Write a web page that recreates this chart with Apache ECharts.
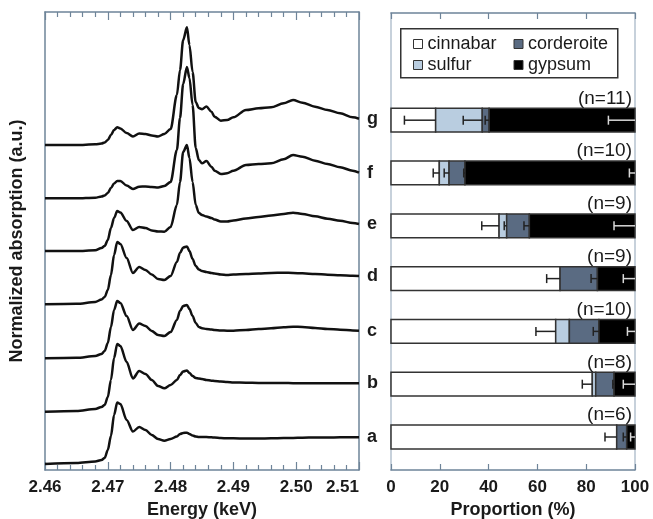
<!DOCTYPE html>
<html>
<head>
<meta charset="utf-8">
<script src="https://cdn.jsdelivr.net/npm/echarts@6/dist/echarts.min.js"></script>
<style>
html,body{margin:0;padding:0;background:#fff;}
#chart{width:653px;height:519px;}
</style>
</head>
<body>
<div id="chart"></div>
<script>
// ---------- Left panel: S K-edge XANES spectra ----------
const energy = [2.460, 2.465, 2.468, 2.469, 2.4695, 2.470, 2.4705, 2.471, 2.4715, 2.472, 2.473, 2.474, 2.475, 2.476, 2.477, 2.478, 2.479, 2.480, 2.481, 2.4815, 2.482, 2.4826, 2.483, 2.4835, 2.484, 2.4845, 2.485, 2.4857, 2.4865, 2.487, 2.488, 2.489, 2.490, 2.492, 2.494, 2.496, 2.498, 2.4995, 2.501, 2.503, 2.505, 2.507, 2.509, 2.510];

const specA = [0.06, 0.07, 0.085, 0.10, 0.12, 0.20, 0.34, 0.55, 0.675, 0.66, 0.50, 0.385, 0.43, 0.40, 0.35, 0.31, 0.293, 0.31, 0.335, 0.36, 0.37, 0.373, 0.36, 0.345, 0.335, 0.33, 0.33, 0.33, 0.327, 0.325, 0.32, 0.317, 0.317, 0.315, 0.315, 0.317, 0.32, 0.32, 0.323, 0.325, 0.325, 0.327, 0.327, 0.327];
const specB = [0.583, 0.59, 0.61, 0.63, 0.65, 0.73, 0.90, 1.12, 1.26, 1.24, 1.08, 0.915, 0.99, 0.96, 0.90, 0.84, 0.817, 0.85, 0.90, 0.95, 0.985, 0.995, 0.97, 0.94, 0.92, 0.915, 0.91, 0.90, 0.893, 0.89, 0.885, 0.88, 0.875, 0.873, 0.87, 0.87, 0.87, 0.868, 0.868, 0.867, 0.867, 0.867, 0.867, 0.867];
const specC = [1.117, 1.122, 1.14, 1.16, 1.19, 1.27, 1.43, 1.60, 1.69, 1.67, 1.54, 1.40, 1.465, 1.44, 1.39, 1.35, 1.34, 1.38, 1.50, 1.59, 1.64, 1.65, 1.61, 1.54, 1.47, 1.43, 1.417, 1.41, 1.405, 1.40, 1.395, 1.393, 1.393, 1.40, 1.41, 1.417, 1.427, 1.433, 1.43, 1.42, 1.41, 1.403, 1.395, 1.393];
const specD = [1.657, 1.662, 1.68, 1.705, 1.73, 1.80, 1.95, 2.15, 2.28, 2.26, 2.12, 1.97, 2.03, 2.00, 1.955, 1.91, 1.90, 1.94, 2.08, 2.17, 2.225, 2.235, 2.19, 2.11, 2.04, 2.005, 1.99, 1.98, 1.97, 1.965, 1.955, 1.95, 1.955, 1.96, 1.965, 1.97, 1.973, 1.97, 1.967, 1.96, 1.953, 1.947, 1.942, 1.94];
const specE = [2.19, 2.19, 2.197, 2.22, 2.24, 2.30, 2.42, 2.52, 2.59, 2.575, 2.49, 2.40, 2.43, 2.42, 2.395, 2.385, 2.383, 2.43, 2.65, 2.88, 3.18, 3.25, 3.12, 2.88, 2.65, 2.57, 2.55, 2.535, 2.52, 2.505, 2.485, 2.485, 2.495, 2.515, 2.53, 2.545, 2.56, 2.573, 2.56, 2.537, 2.513, 2.493, 2.47, 2.46];
const specF = [2.717, 2.717, 2.723, 2.735, 2.745, 2.77, 2.82, 2.865, 2.89, 2.89, 2.845, 2.81, 2.833, 2.835, 2.83, 2.825, 2.84, 2.88, 3.20, 3.52, 3.86, 4.03, 3.92, 3.65, 3.22, 3.10, 3.067, 3.09, 3.033, 2.993, 2.96, 2.967, 2.993, 3.05, 3.06, 3.067, 3.107, 3.15, 3.133, 3.093, 3.06, 3.027, 2.993, 2.973];
const specG = [3.25, 3.25, 3.257, 3.265, 3.275, 3.30, 3.35, 3.40, 3.427, 3.415, 3.37, 3.335, 3.365, 3.36, 3.345, 3.335, 3.36, 3.41, 3.75, 4.00, 4.30, 4.427, 4.25, 3.98, 3.68, 3.62, 3.607, 3.635, 3.583, 3.533, 3.493, 3.50, 3.527, 3.60, 3.617, 3.627, 3.667, 3.70, 3.673, 3.633, 3.60, 3.567, 3.527, 3.513];

const energyTicks = ['2.46', '2.47', '2.48', '2.49', '2.50', '2.51'];

// ---------- Right panel: species proportions ----------
const samples = ['a', 'b', 'c', 'd', 'e', 'f', 'g'];
const nCounts = [6, 8, 10, 9, 9, 10, 11];
const cinnabar   = [92.5, 82.5, 67.5, 69.3, 44.3, 19.8, 18.3];
const sulfur     = [0, 1.4, 5.6, 0, 3.1, 4.0, 19.1];
const corderoite = [4.1, 7.5, 12.1, 15.3, 9.3, 6.5, 2.8];
const gypsum     = [3.4, 8.6, 14.8, 15.4, 43.3, 69.7, 59.8];
const cinnabarErr   = [4.8, 4.1, 8.1, 5.5, 7.1, 2.5, 12.8];
const sulfurErr     = [0, 0, 0, 0, 1.0, 2.0, 7.8];
const corderoiteErr = [1.4, 0.5, 2.3, 2.6, 2.2, 0.5, 1.6];
const gypsumErr     = [1.8, 4.8, 3.1, 4.8, 8.6, 2.3, 10.9];
const proportionTicks = [0, 20, 40, 60, 80, 100];

const FONT = '"Liberation Sans", Arial, sans-serif';
const AXIS = '#6e8499';
const AXIS_R = '#b4c2cf';
const TXT = '#1a1a1a';

const spectra = [specA, specB, specC, specD, specE, specF, specG];
const lineSeries = spectra.map((arr, i) => ({
  type: 'line',
  name: 'spec-' + samples[i],
  xAxisIndex: 0, yAxisIndex: 0,
  data: energy.map((e, k) => [e, arr[k]]),
  smooth: 0.3,
  smoothMonotone: 'x',
  showSymbol: false,
  lineStyle: { color: '#111', width: 2.5 },
  endLabel: {
    show: true, formatter: samples[i], distance: 8,
    fontSize: 18, fontWeight: 'bold', color: TXT, fontFamily: FONT
  },
  silent: true, animation: false, z: 3
}));

const comps = [
  { name: 'cinnabar', vals: cinnabar, err: cinnabarErr, color: '#ffffff', errColor: '#222' },
  { name: 'sulfur', vals: sulfur, err: sulfurErr, color: '#b9cde0', errColor: '#222' },
  { name: 'corderoite', vals: corderoite, err: corderoiteErr, color: '#5a6b82', errColor: '#222' },
  { name: 'gypsum', vals: gypsum, err: gypsumErr, color: '#000000', errColor: '#d8d8d8' }
];

const rowPos = samples.map((s, i) => i + 1);
const starts = samples.map(() => 0);
const barSeries = [];
const errData = [];
comps.forEach((c, ci) => {
  const data = [];
  samples.forEach((s, i) => {
    const s0 = starts[i], s1 = s0 + c.vals[i];
    data.push([s0, s1, rowPos[i]]);
    errData.push([s1, c.vals[i] > 0 ? c.err[i] : 0, rowPos[i], ci]);
    starts[i] = s1;
  });
  barSeries.push({
    type: 'custom', name: c.name,
    coordinateSystem: 'cartesian2d', xAxisIndex: 2, yAxisIndex: 2,
    itemStyle: { color: c.color, borderColor: '#333', borderWidth: 1 },
    encode: { x: [0, 1], y: 2 },
    data: data,
    renderItem: function (params, api) {
      const a = api.value(0), b = api.value(1), y = api.value(2);
      if (b - a <= 0) return null;
      const p0 = api.coord([a, y]), p1 = api.coord([b, y]);
      const h = api.size([0, 1])[1] * 0.45;
      return {
        type: 'rect',
        shape: { x: p0[0], y: p0[1] - h / 2, width: p1[0] - p0[0], height: h },
        style: { fill: c.color, stroke: '#333', lineWidth: 1.5 }
      };
    },
    silent: true, animation: false, z: 2
  });
});

const errSeries = {
  type: 'custom', name: 'errors',
  coordinateSystem: 'cartesian2d', xAxisIndex: 2, yAxisIndex: 2,
  encode: { x: 0, y: 2 },
  data: errData,
  renderItem: function (params, api) {
    const e = api.value(0), err = api.value(1), y = api.value(2), ci = api.value(3);
    if (err <= 0) return null;
    const p1 = api.coord([e, y]), p0 = api.coord([e - err, y]);
    const col = comps[ci].errColor;
    return {
      type: 'group',
      children: [
        { type: 'line', shape: { x1: p0[0], y1: p0[1], x2: p1[0], y2: p1[1] }, style: { stroke: col, lineWidth: 1.5 } },
        { type: 'line', shape: { x1: p0[0], y1: p0[1] - 4.5, x2: p0[0], y2: p0[1] + 4.5 }, style: { stroke: col, lineWidth: 1.5 } }
      ]
    };
  },
  silent: true, animation: false, z: 5
};

const nSeries = {
  type: 'custom', name: 'counts',
  coordinateSystem: 'cartesian2d', xAxisIndex: 2, yAxisIndex: 2,
  encode: { x: 0, y: 1 },
  data: samples.map((s, i) => [100, rowPos[i], nCounts[i]]),
  renderItem: function (params, api) {
    const p = api.coord([api.value(0), api.value(1)]);
    const h = api.size([0, 1])[1] * 0.45;
    return {
      type: 'text',
      x: p[0] - 3, y: p[1] - h / 2 - 10,
      style: {
        text: '(n=' + api.value(2) + ')', align: 'right', verticalAlign: 'middle',
        textAlign: 'right', textVerticalAlign: 'middle',
        fontSize: 19, fontFamily: FONT, fill: TXT
      }
    };
  },
  silent: true, animation: false, z: 6
};

const nameStyle = { fontSize: 18, fontWeight: 'bold', color: TXT, fontFamily: FONT };

function xAx(grid, pos, opts) {
  return Object.assign({
    gridIndex: grid, type: 'value', position: pos,
    axisLine: { show: true, onZero: false, lineStyle: { color: AXIS, width: 1.5 } },
    splitLine: { show: false }
  }, opts);
}

const chart = echarts.init(document.getElementById('chart'), null, { renderer: 'canvas' });
chart.setOption({
  animation: false,
  backgroundColor: '#fff',
  grid: [
    { left: 45, top: 12, width: 314, height: 458, outerBoundsMode: 'none', containLabel: false },
    { left: 391, top: 13, width: 244, height: 457, outerBoundsMode: 'none', containLabel: false }
  ],
  xAxis: [
    xAx(0, 'bottom', {
      min: 2.46, max: 2.51, interval: 0.01,
      axisTick: { inside: true, length: 8, lineStyle: { color: AXIS, width: 1.2 } },
      minorTick: { show: true, splitNumber: 5, length: 5, lineStyle: { color: AXIS, width: 1.2 } },
      axisLabel: {
        formatter: v => energyTicks[Math.round((v - 2.46) / 0.01)],
        fontSize: 17, fontWeight: 'bold', color: TXT, fontFamily: FONT, margin: 9,
        alignMaxLabel: 'right'
      },
      name: 'Energy (keV)', nameLocation: 'middle', nameGap: 28, nameTextStyle: nameStyle
    }),
    xAx(0, 'top', {
      min: 2.46, max: 2.51, interval: 0.01,
      axisTick: { show: true, inside: true, length: 8, lineStyle: { color: AXIS, width: 1.2 } },
      minorTick: { show: true, splitNumber: 5, length: 5, lineStyle: { color: AXIS, width: 1.2 } },
      axisLabel: { show: false }
    }),
    xAx(1, 'bottom', {
      min: 0, max: 100, interval: 20,
      axisTick: { inside: true, length: 6, lineStyle: { color: AXIS, width: 1.2 } },
      axisLabel: {
        formatter: v => String(proportionTicks[Math.round(v / 20)]),
        fontSize: 17, fontWeight: 'bold', color: TXT, fontFamily: FONT, margin: 9
      },
      name: 'Proportion (%)', nameLocation: 'middle', nameGap: 28, nameTextStyle: nameStyle
    }),
    xAx(1, 'top', {
      min: 0, max: 100, interval: 20,
      axisTick: { show: true, inside: true, length: 6, lineStyle: { color: AXIS, width: 1.2 } },
      axisLabel: { show: false }
    })
  ],
  yAxis: [
    {
      gridIndex: 0, type: 'value', min: 0, max: 4.58, position: 'left',
      axisLine: { show: true, onZero: false, lineStyle: { color: AXIS, width: 1.5 } },
      axisTick: { show: false }, axisLabel: { show: false }, splitLine: { show: false },
      name: 'Normalized absorption (a.u.)', nameLocation: 'middle', nameGap: 19,
      nameTextStyle: nameStyle
    },
    {
      gridIndex: 0, type: 'value', min: 0, max: 4.58, position: 'right',
      axisLine: { show: true, onZero: false, lineStyle: { color: AXIS, width: 1.5 } },
      axisTick: { show: false }, axisLabel: { show: false }, splitLine: { show: false }
    },
    {
      gridIndex: 1, type: 'value', min: 0.375, max: 9.03, position: 'left',
      axisLine: { show: true, onZero: false, lineStyle: { color: AXIS_R, width: 1.5 } },
      axisTick: { show: false }, axisLabel: { show: false }, splitLine: { show: false }
    },
    {
      gridIndex: 1, type: 'value', min: 0.375, max: 9.03, position: 'right',
      axisLine: { show: true, onZero: false, lineStyle: { color: AXIS_R, width: 1.5 } },
      axisTick: { show: false }, axisLabel: { show: false }, splitLine: { show: false }
    }
  ],
  legend: [
    {
      data: ['cinnabar', 'corderoite'], left: 413, top: 35, orient: 'horizontal',
      icon: 'rect', itemWidth: 9, itemHeight: 9, itemGap: 10, selectedMode: false, padding: 0,
      itemStyle: { borderColor: '#333', borderWidth: 1 },
      textStyle: { fontSize: 18, width: 76, lineHeight: 18, color: TXT, fontFamily: FONT }
    },
    {
      data: ['sulfur', 'gypsum'], left: 413, top: 56, orient: 'horizontal',
      icon: 'rect', itemWidth: 9, itemHeight: 9, itemGap: 10, selectedMode: false, padding: 0,
      itemStyle: { borderColor: '#333', borderWidth: 1 },
      textStyle: { fontSize: 18, width: 76, lineHeight: 18, color: TXT, fontFamily: FONT }
    }
  ],
  graphic: [
    {
      type: 'rect', left: 400, top: 28, z: 1,
      shape: { width: 217, height: 49 },
      style: { fill: '#fff', stroke: '#333', lineWidth: 1.5 }
    }
  ],
  series: lineSeries.concat(barSeries, [errSeries, nSeries])
});
</script>
</body>
</html>
